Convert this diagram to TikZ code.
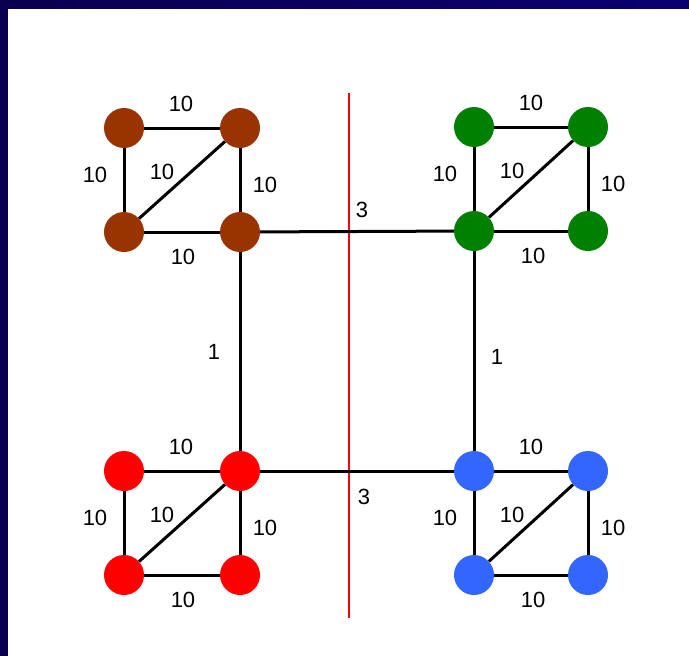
\documentclass[tikz,border=0pt]{standalone}
\usepackage{fontspec}
\setmainfont{Liberation Sans}
\usepackage{tikz}
\usetikzlibrary{positioning}
\definecolor{framenavy}{RGB}{10,0,80}
\definecolor{framenavyr}{RGB}{10,0,112}
\definecolor{nodebrown}{RGB}{153,51,0}
\definecolor{nodegreen}{RGB}{0,128,0}
\definecolor{nodered}{RGB}{255,0,0}
\definecolor{nodeblue}{RGB}{51,102,255}

\begin{document}
\begin{tikzpicture}[
    x=1pt, y=-1pt,
    vertex/.style={circle, minimum size=40pt, inner sep=0pt},
    link/.style={line width=3pt, draw=black},
    wt/.style={inner sep=0pt, font=\fontsize{22}{26}\selectfont}
]
\useasboundingbox (0,0) rectangle (689,656);
\fill[white] (0,0) rectangle (689,656);
% frame
\fill[framenavy] (0,0) rectangle (8,656);
\shade[left color=framenavy, right color=framenavyr] (0,0) rectangle (689,8);

% the cut
\coordinate (cutTop) at (349,93);
\coordinate (cutBot) at (349,618);
\draw[draw=nodered, line width=1.2pt] (cutTop) -- (cutBot);

% four clusters
\foreach \nm/\x/\y/\w/\col in {br/124/128/116/nodebrown, gr/474/127/114/nodegreen,
                              rd/124/471/116/nodered, bl/474/471/114/nodeblue} {
    \node[vertex, fill=\col] (\nm1) at (\x,\y) {};
    \node[vertex, fill=\col] (\nm2) at (\x+\w,\y) {};
    \node[vertex, fill=\col] (\nm3) at (\x,\y+104) {};
    \node[vertex, fill=\col] (\nm4) at (\x+\w,\y+104) {};
    \draw[link] (\nm1) -- (\nm2);
    \draw[link] (\nm1) -- (\nm3);
    \draw[link] (\nm2) -- (\nm4);
    \draw[link] (\nm3) -- (\nm4);
    \draw[link] (\nm3) -- (\nm2);
    \node[wt] (\nm top) at (\x+57,\y-24) {10};
    \node[wt] (\nm left) at (\x-29,\y+47) {10};
    \node[wt] (\nm diag) at (\x+38,\y+44) {10};
    \node[wt] (\nm right) at (\x+\w+25,\y+57) {10};
    \node[wt] (\nm bot) at (\x+59,\y+129) {10};
}

% links between clusters
\draw[link] (br4) -- (gr3);
\draw[link] (rd2) -- (bl1);
\draw[link] (br4) -- (rd2);
\draw[link] (gr3) -- (bl1);
\node[wt] (wtop) at (362,210) {3};
\node[wt] (wbot) at (364,497) {3};
\node[wt] (wleft) at (214,352) {1};
\node[wt] (wright) at (497,357) {1};
\end{tikzpicture}
\end{document}
